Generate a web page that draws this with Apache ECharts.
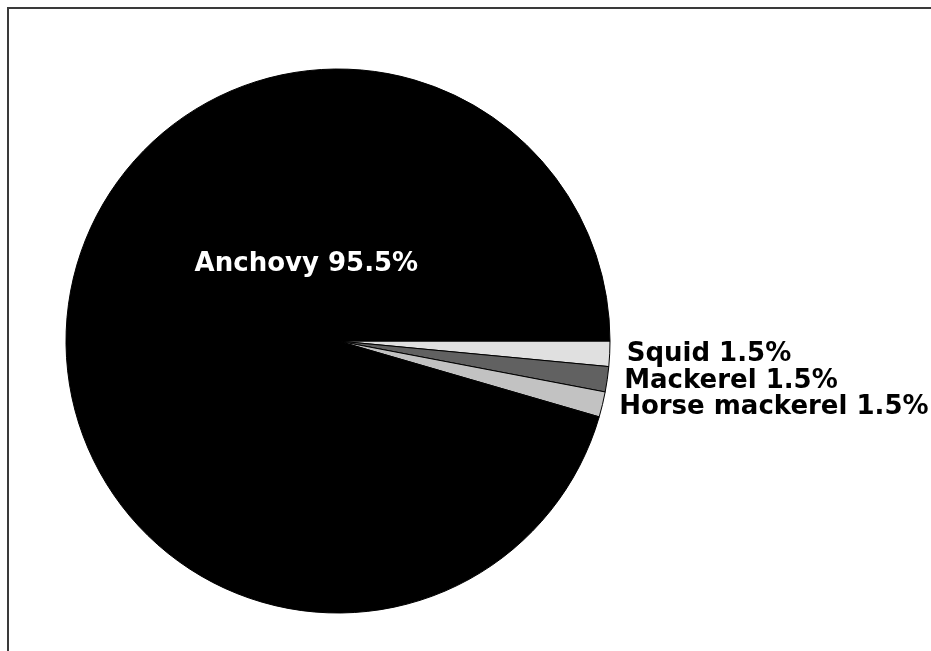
<!DOCTYPE html>
<html>
<head>
<meta charset="utf-8">
<title>Catch composition</title>
<script src="https://cdn.jsdelivr.net/npm/echarts@6/dist/echarts.min.js"></script>
<style>
  html, body { margin: 0; padding: 0; background: #fff; }
  #chart { width: 931px; height: 651px; }
</style>
</head>
<body>
<div id="chart"></div>
<script>
// slices in drawing order, clockwise from 3 o'clock
const species = ['Squid', 'Mackerel', 'Horse mackerel', 'Anchovy']
const shares = [1.5, 1.5, 1.5, 95.5]
const sliceColors = ['#e0e0e0', '#616161', '#c2c2c2', '#000000']

const chart = echarts.init(document.getElementById('chart'))

const pieData = species.map((name, i) => ({
  name,
  value: shares[i],
  itemStyle: { color: sliceColors[i] },
  // big slice gets its label inside, in white
  label: i === 3
    ? { position: 'inside', color: '#fff', fontSize: 26 }
    : undefined,
}))

chart.setOption({
  animation: false,
  backgroundColor: '#fff',
  graphic: [
    {
      type: 'rect',
      shape: { x: 8, y: 8, width: 1200, height: 1200 },
      style: { fill: 'none', stroke: '#3a3a3a', lineWidth: 2 },
      silent: true,
    },
  ],
  series: [
    {
      type: 'pie',
      center: [338, 341],
      radius: 272,
      startAngle: 0,
      clockwise: true,
      avoidLabelOverlap: false,
      data: pieData,
      itemStyle: { borderColor: '#000', borderWidth: 1 },
      label: {
        show: true,
        position: 'outside',
        formatter: (p) => p.name + ' ' + p.value.toFixed(1) + '%',
        fontFamily: 'DejaVu Sans',
        fontWeight: 'bold',
        fontSize: 26,
        color: '#000',
        distanceToLabelLine: 5,
      },
      labelLine: { show: false, length: 12, length2: 0 },
      labelLayout: (params) => (params.dataIndex === 3 ? { dx: 106, dy: -57 } : {}),
      emphasis: { disabled: true },
    },
  ],
})

window.addEventListener('resize', () => chart.resize())
</script>
</body>
</html>
